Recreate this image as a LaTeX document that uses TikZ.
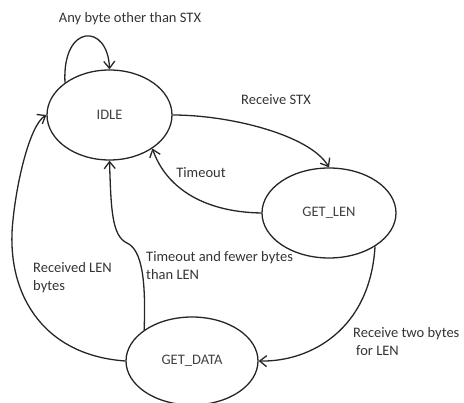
\documentclass[tikz,border=0pt]{standalone}
\usepackage{fontspec}
\setmainfont{Carlito}
\usetikzlibrary{shapes.geometric,arrows.meta}
\begin{document}
\begin{tikzpicture}[x=1pt,y=-1pt,
  state/.style={draw=black!85,ellipse,line width=1.3pt,inner sep=0pt,text=black!75},
  conn/.style={draw=black!85,line width=1.3pt,-{Straight Barb[length=7pt,width=11pt,line width=1.3pt]}},
  lbl/.style={text=black!80,inner sep=0pt,align=left}]
\useasboundingbox (0,0) rectangle (464,403);
\fontsize{14.5pt}{18pt}\selectfont
\node[state,minimum width=125pt,minimum height=90pt] (idle) at (109.5,115) {IDLE};
\node[state,minimum width=134pt,minimum height=90pt] (gl) at (329,213) {GET\_LEN};
\node[state,minimum width=132pt,minimum height=88pt] (gd) at (192,361) {GET\_DATA};
\draw[conn] (idle.144) .. controls (62,23) and (108,23) .. (idle.90);
\draw[conn] (idle.0) .. controls (230,115) and (310,135) .. (gl.90);
\draw[conn] (gl.180) .. controls (200,212) and (165,185) .. (idle.-38);
\draw[conn] (gd.147) .. controls (146,280) and (142,250) .. (127,243) .. controls (112,236) and (111,210) .. (idle.270);
\draw[conn] (gd.180) .. controls (40,355) and (5,290) .. (13,220) .. controls (17,180) and (30,125) .. (idle.180);
\draw[conn] (gl.-36) .. controls (370,330) and (310,362) .. (gd.0);
\node[lbl] (l1) at (130,19) {Any byte other than STX};
\node[lbl] (l2) at (276,100) {Receive STX};
\node[lbl] (l3) at (201,173) {Timeout};
\node[lbl,anchor=west] (l4) at (146,266) {Timeout and fewer bytes\\than LEN};
\node[lbl,anchor=west] (l5) at (33,278) {Received LEN\\bytes};
\node[lbl,anchor=west] (l6) at (353,342) {Receive two bytes\\\hspace{3pt}for LEN};
\end{tikzpicture}
\end{document}
